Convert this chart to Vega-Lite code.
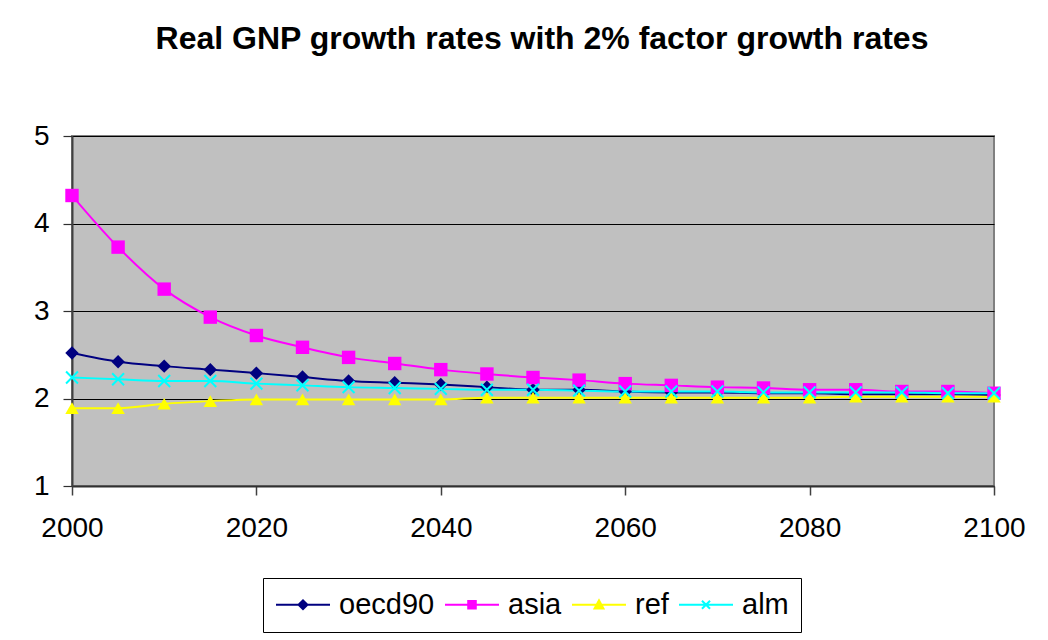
{
  "$schema": "https://vega.github.io/schema/vega-lite/v6.json",
  "autosize": "none",
  "width": 922,
  "height": 350,
  "padding": {"left": 72, "top": 136, "right": 54, "bottom": 154},
  "background": "white",
  "title": {
    "text": "Real GNP growth rates with 2% factor growth rates",
    "font": "Liberation Sans",
    "fontSize": 32,
    "fontWeight": "bold",
    "color": "black",
    "anchor": "middle",
    "dx": 9,
    "offset": 66
  },
  "config": {
    "font": "Liberation Sans",
    "view": {"fill": "#C0C0C0", "stroke": "#808080", "strokeWidth": 2}
  },
  "data": {
    "values": [
      {"year": 2000, "series": "oecd90", "rate": 2.52},
      {"year": 2005, "series": "oecd90", "rate": 2.42},
      {"year": 2010, "series": "oecd90", "rate": 2.37},
      {"year": 2015, "series": "oecd90", "rate": 2.33},
      {"year": 2020, "series": "oecd90", "rate": 2.29},
      {"year": 2025, "series": "oecd90", "rate": 2.245},
      {"year": 2030, "series": "oecd90", "rate": 2.2},
      {"year": 2035, "series": "oecd90", "rate": 2.18},
      {"year": 2040, "series": "oecd90", "rate": 2.16},
      {"year": 2045, "series": "oecd90", "rate": 2.13},
      {"year": 2050, "series": "oecd90", "rate": 2.1},
      {"year": 2055, "series": "oecd90", "rate": 2.1},
      {"year": 2060, "series": "oecd90", "rate": 2.08},
      {"year": 2065, "series": "oecd90", "rate": 2.07},
      {"year": 2070, "series": "oecd90", "rate": 2.07},
      {"year": 2075, "series": "oecd90", "rate": 2.06},
      {"year": 2080, "series": "oecd90", "rate": 2.06},
      {"year": 2085, "series": "oecd90", "rate": 2.05},
      {"year": 2090, "series": "oecd90", "rate": 2.05},
      {"year": 2095, "series": "oecd90", "rate": 2.05},
      {"year": 2100, "series": "oecd90", "rate": 2.04},
      {"year": 2000, "series": "asia", "rate": 4.32},
      {"year": 2005, "series": "asia", "rate": 3.73},
      {"year": 2010, "series": "asia", "rate": 3.25},
      {"year": 2015, "series": "asia", "rate": 2.93},
      {"year": 2020, "series": "asia", "rate": 2.72},
      {"year": 2025, "series": "asia", "rate": 2.585},
      {"year": 2030, "series": "asia", "rate": 2.47},
      {"year": 2035, "series": "asia", "rate": 2.4},
      {"year": 2040, "series": "asia", "rate": 2.33},
      {"year": 2045, "series": "asia", "rate": 2.28},
      {"year": 2050, "series": "asia", "rate": 2.24},
      {"year": 2055, "series": "asia", "rate": 2.21},
      {"year": 2060, "series": "asia", "rate": 2.17},
      {"year": 2065, "series": "asia", "rate": 2.15},
      {"year": 2070, "series": "asia", "rate": 2.13},
      {"year": 2075, "series": "asia", "rate": 2.12},
      {"year": 2080, "series": "asia", "rate": 2.1},
      {"year": 2085, "series": "asia", "rate": 2.1},
      {"year": 2090, "series": "asia", "rate": 2.08},
      {"year": 2095, "series": "asia", "rate": 2.08},
      {"year": 2100, "series": "asia", "rate": 2.06},
      {"year": 2000, "series": "ref", "rate": 1.89},
      {"year": 2005, "series": "ref", "rate": 1.89},
      {"year": 2010, "series": "ref", "rate": 1.94},
      {"year": 2015, "series": "ref", "rate": 1.97},
      {"year": 2020, "series": "ref", "rate": 1.99},
      {"year": 2025, "series": "ref", "rate": 1.99},
      {"year": 2030, "series": "ref", "rate": 1.99},
      {"year": 2035, "series": "ref", "rate": 1.99},
      {"year": 2040, "series": "ref", "rate": 1.99},
      {"year": 2045, "series": "ref", "rate": 2.01},
      {"year": 2050, "series": "ref", "rate": 2.01},
      {"year": 2055, "series": "ref", "rate": 2.01},
      {"year": 2060, "series": "ref", "rate": 2.01},
      {"year": 2065, "series": "ref", "rate": 2.01},
      {"year": 2070, "series": "ref", "rate": 2.01},
      {"year": 2075, "series": "ref", "rate": 2.01},
      {"year": 2080, "series": "ref", "rate": 2.01},
      {"year": 2085, "series": "ref", "rate": 2.02},
      {"year": 2090, "series": "ref", "rate": 2.02},
      {"year": 2095, "series": "ref", "rate": 2.02},
      {"year": 2100, "series": "ref", "rate": 2.02},
      {"year": 2000, "series": "alm", "rate": 2.24},
      {"year": 2005, "series": "alm", "rate": 2.22},
      {"year": 2010, "series": "alm", "rate": 2.2},
      {"year": 2015, "series": "alm", "rate": 2.2},
      {"year": 2020, "series": "alm", "rate": 2.17},
      {"year": 2025, "series": "alm", "rate": 2.15},
      {"year": 2030, "series": "alm", "rate": 2.13},
      {"year": 2035, "series": "alm", "rate": 2.12},
      {"year": 2040, "series": "alm", "rate": 2.11},
      {"year": 2045, "series": "alm", "rate": 2.1},
      {"year": 2050, "series": "alm", "rate": 2.1},
      {"year": 2055, "series": "alm", "rate": 2.09},
      {"year": 2060, "series": "alm", "rate": 2.08},
      {"year": 2065, "series": "alm", "rate": 2.08},
      {"year": 2070, "series": "alm", "rate": 2.08},
      {"year": 2075, "series": "alm", "rate": 2.07},
      {"year": 2080, "series": "alm", "rate": 2.07},
      {"year": 2085, "series": "alm", "rate": 2.07},
      {"year": 2090, "series": "alm", "rate": 2.07},
      {"year": 2095, "series": "alm", "rate": 2.06},
      {"year": 2100, "series": "alm", "rate": 2.06}
    ]
  },
  "encoding": {
    "x": {
      "field": "year",
      "type": "quantitative",
      "scale": {"domain": [2000, 2100], "nice": false, "zero": false},
      "axis": {
        "title": null,
        "values": [2000, 2020, 2040, 2060, 2080, 2100],
        "format": "d",
        "grid": false,
        "labelFont": "Liberation Sans",
        "labelFontSize": 28,
        "labelColor": "black",
        "labelPadding": 19,
        "tickSize": 9,
        "tickColor": "#404040",
        "tickWidth": 1.5,
        "domainColor": "#303030",
        "domainWidth": 2,
        "labelFlush": false,
        "labelOverlap": false
      }
    },
    "y": {
      "field": "rate",
      "type": "quantitative",
      "scale": {"domain": [1, 5], "nice": false, "zero": false},
      "axis": {
        "title": null,
        "values": [1, 2, 3, 4, 5],
        "grid": true,
        "gridColor": "black",
        "gridWidth": 1.2,
        "gridOpacity": 1,
        "labelFont": "Liberation Sans",
        "labelFontSize": 28,
        "labelColor": "black",
        "labelPadding": 14,
        "tickSize": 9,
        "tickColor": "#303030",
        "tickWidth": 1.2,
        "domainColor": "#404040",
        "domainWidth": 2,
        "labelFlush": false
      }
    },
    "color": {
      "field": "series",
      "type": "nominal",
      "scale": {"domain": ["oecd90", "asia", "ref", "alm"], "range": ["#000080", "#FF00FF", "#FFFF00", "#00FFFF"]},
      "legend": {
        "title": null,
        "orient": "none",
        "legendX": 191,
        "legendY": 442,
        "direction": "horizontal",
        "strokeColor": "black",
        "fillColor": "white",
        "padding": 12,
        "symbolSize": 729,
        "symbolStrokeWidth": 2,
        "symbolOpacity": 1,
        "labelFont": "Liberation Sans",
        "labelFontSize": 29,
        "labelColor": "black",
        "labelOffset": 35,
        "columnPadding": 6
      }
    }
  },
  "layer": [
    {
      "mark": {"type": "line", "interpolate": "monotone", "strokeWidth": 2, "clip": true},
      "encoding": {"detail": {"field": "series"}}
    },
    {
      "transform": [{"filter": "datum.series === 'oecd90'"}],
      "mark": {"type": "point", "filled": true, "size": 180, "opacity": 1, "shape": "diamond", "color": "#000080"},
      "encoding": {"color": {"value": "#000080"}}
    },
    {
      "transform": [{"filter": "datum.series === 'asia'"}],
      "mark": {"type": "point", "filled": true, "size": 180, "opacity": 1, "shape": "square", "color": "#FF00FF"},
      "encoding": {"color": {"value": "#FF00FF"}}
    },
    {
      "transform": [{"filter": "datum.series === 'ref'"}],
      "mark": {"type": "point", "filled": true, "size": 180, "opacity": 1, "shape": "triangle-up", "color": "#FFFF00"},
      "encoding": {"color": {"value": "#FFFF00"}}
    },
    {
      "transform": [{"filter": "datum.series === 'alm'"}],
      "mark": {"type": "point", "filled": false, "size": 220, "opacity": 1, "strokeWidth": 2, "shape": "M-0.8,-0.8L0.8,0.8M-0.8,0.8L0.8,-0.8", "color": "#00FFFF"},
      "encoding": {"color": {"value": "#00FFFF"}}
    },
    {
      "transform": [{"filter": "datum.rate > 100"}],
      "mark": {"type": "point", "filled": true, "opacity": 1},
      "encoding": {
        "shape": {
          "field": "series",
          "type": "nominal",
          "scale": {"domain": ["oecd90", "asia", "ref", "alm"], "range": ["M-1,0H3M0.67,0L1,-0.33L1.33,0L1,0.33Z", "M-1,0H3M0.72,-0.28H1.28V0.28H0.72Z", "M-1,0H3M0.67,0.28L1.33,0.28L1,-0.33Z", "M-1,0H3M0.7,-0.3L1.3,0.3M0.7,0.3L1.3,-0.3"]}
        },
        "stroke": {
          "field": "series",
          "type": "nominal",
          "scale": {"domain": ["oecd90", "asia", "ref", "alm"], "range": ["#000080", "#FF00FF", "#FFFF00", "#00FFFF"]}
        }
      }
    }
  ]
}
